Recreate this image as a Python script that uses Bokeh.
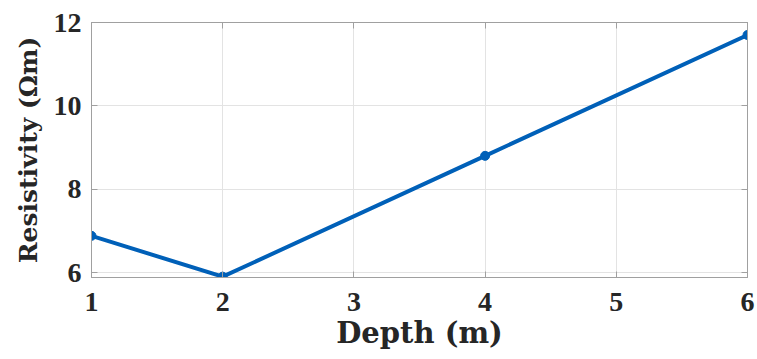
from bokeh.plotting import figure
from bokeh.models import LinearAxis, FixedTicker, Range1d
from bokeh.embed import file_html
from bokeh.resources import INLINE

depth = [1, 2, 4, 6]
resistivity = [6.88, 5.9, 8.8, 11.7]
x_ticks = [1, 2, 3, 4, 5, 6]
y_ticks = [6, 8, 10, 12]
x_lim = (1, 6)
y_lim = (5.88, 12)

TICK_FONT = "Liberation Serif"
LABEL_FONT = "DejaVu Serif"
LINE = "#0060B8"
FRAME = "#a0a0a0"
TXT = "#262626"

p = figure(width=757, height=359, output_backend="svg", toolbar_location=None,
           x_range=Range1d(*x_lim), y_range=Range1d(*y_lim),
           frame_width=656, frame_height=255,
           min_border_left=91, min_border_right=10, min_border_top=22, min_border_bottom=82)
p.background_fill_color = "white"
p.border_fill_color = "white"
p.outline_line_color = FRAME
p.outline_line_width = 1

p.line(depth, resistivity, line_color=LINE, line_width=4)
p.scatter(depth, resistivity, size=9, fill_color=LINE, line_color=LINE)

for ax, ticks in ((p.xaxis[0], x_ticks), (p.yaxis[0], y_ticks)):
    ax.ticker = FixedTicker(ticks=ticks)
    ax.minor_tick_line_color = None
    ax.major_tick_in = 6
    ax.major_tick_out = 0
    ax.axis_line_color = FRAME
    ax.major_tick_line_color = FRAME
    ax.major_label_text_font = TICK_FONT
    ax.major_label_text_font_style = "bold"
    ax.major_label_text_font_size = "28px"
    ax.major_label_text_color = TXT
    ax.axis_label_text_font = LABEL_FONT
    ax.axis_label_text_font_style = "bold"
    ax.axis_label_text_color = TXT

p.xaxis[0].axis_label = "Depth (m)"
p.xaxis[0].axis_label_text_font_size = "29px"
p.xaxis[0].major_label_standoff = 15
p.xaxis[0].axis_label_standoff = 2
p.yaxis[0].axis_label = "Resistivity (Ωm)"
p.yaxis[0].axis_label_text_font_size = "25px"
p.yaxis[0].major_label_standoff = 10
p.yaxis[0].axis_label_standoff = 8

for loc, ticks in (("right", y_ticks), ("above", x_ticks)):
    a = LinearAxis(ticker=FixedTicker(ticks=ticks))
    a.minor_tick_line_color = None
    a.major_tick_in = 6
    a.major_tick_out = 0
    a.axis_line_color = FRAME
    a.major_tick_line_color = FRAME
    a.major_label_text_font_size = "0px"
    a.major_label_standoff = 0
    a.major_label_overrides = {t: "" for t in ticks}
    p.add_layout(a, loc)

p.xgrid.ticker = FixedTicker(ticks=x_ticks)
p.ygrid.ticker = FixedTicker(ticks=y_ticks)
p.grid.grid_line_color = "#e3e3e3"
p.grid.grid_line_width = 1

open("out.html", "w").write(file_html(p, INLINE))
